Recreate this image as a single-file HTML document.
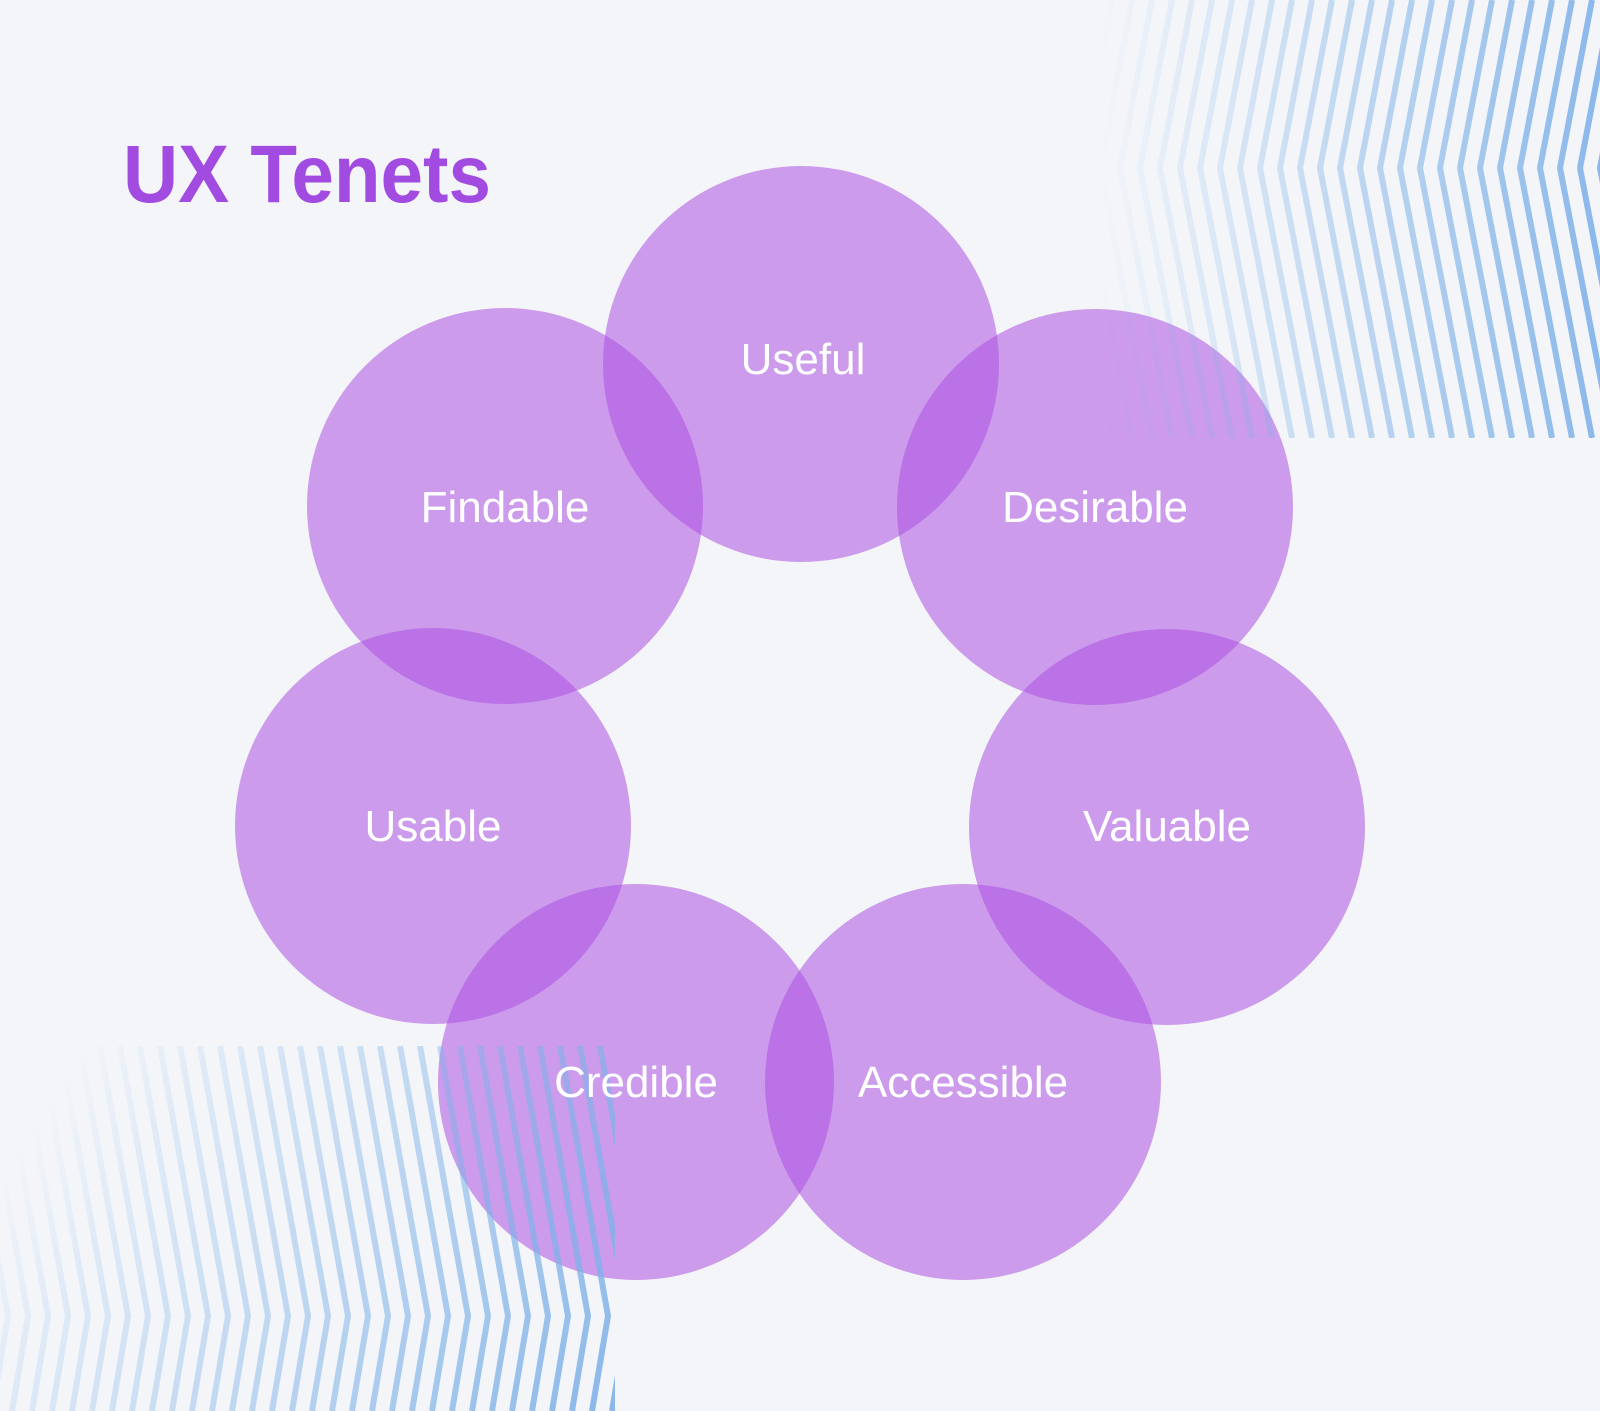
<!DOCTYPE html>
<html><head><meta charset="utf-8"><style>
html,body{margin:0;padding:0;background:#f3f5f9;}
svg{display:block;}
</style></head><body>
<svg id="s" width="1600" height="1411" viewBox="0 0 1600 1411" xmlns="http://www.w3.org/2000/svg">
<defs>
<linearGradient id="gTR" x1="1100" y1="0" x2="1600" y2="0" gradientUnits="userSpaceOnUse">
<stop offset="0" stop-color="#fff" stop-opacity="0"/><stop offset="1" stop-color="#fff" stop-opacity="1"/></linearGradient>
<mask id="mTR"><rect x="1080" y="0" width="520" height="438" fill="url(#gTR)"/></mask>
<linearGradient id="gBL" x1="60" y1="1080" x2="600" y2="1411" gradientUnits="userSpaceOnUse">
<stop offset="0" stop-color="#fff" stop-opacity="0"/><stop offset="1" stop-color="#fff" stop-opacity="1"/></linearGradient>
<mask id="mBL"><rect x="0" y="1046" width="615" height="365" fill="url(#gBL)"/></mask>
</defs>
<rect width="1600" height="1411" fill="#f3f5f9"/>
<g fill="rgb(172,80,225)" fill-opacity="0.55">
<circle cx="801" cy="364" r="198"/>
<circle cx="505" cy="506" r="198"/>
<circle cx="1095" cy="507" r="198"/>
<circle cx="433" cy="826" r="198"/>
<circle cx="1167" cy="827" r="198"/>
<circle cx="636" cy="1082" r="198"/>
<circle cx="963" cy="1082" r="198"/>
</g>
<g id="tr" mask="url(#mTR)" stroke="#7fb2e8" stroke-width="6" fill="none" opacity="0.9"></g>
<g id="bl" mask="url(#mBL)" stroke="#7fb2e8" stroke-width="6" fill="none" opacity="0.9"></g>
<text x="123" y="202" font-family="Liberation Sans, sans-serif" font-weight="bold" font-size="82" fill="#a24be0" textLength="368" lengthAdjust="spacingAndGlyphs">UX Tenets</text>
<g font-family="Liberation Sans, sans-serif" font-size="44" fill="#fff" text-anchor="middle">
<text x="803" y="374">Useful</text>
<text x="505" y="522">Findable</text>
<text x="1095" y="522">Desirable</text>
<text x="433" y="841">Usable</text>
<text x="1167" y="841">Valuable</text>
<text x="636" y="1097">Credible</text>
<text x="963" y="1097">Accessible</text>
</g>
</svg>
<script>
var ns="http://www.w3.org/2000/svg";
var tr=document.getElementById("tr"),bl=document.getElementById("bl");
for(var x=1040;x<1700;x+=20){
 var p=document.createElementNS(ns,"polyline");
 p.setAttribute("points",(x+32)+",0 "+x+",168 "+(x+52)+",438");
 tr.appendChild(p);
}
for(var x=-80;x<640;x+=20){
 var p=document.createElementNS(ns,"polyline");
 p.setAttribute("points",x+",1046 "+(x+48)+",1316 "+(x+32)+",1411");
 bl.appendChild(p);
}
</script>
</body></html>
